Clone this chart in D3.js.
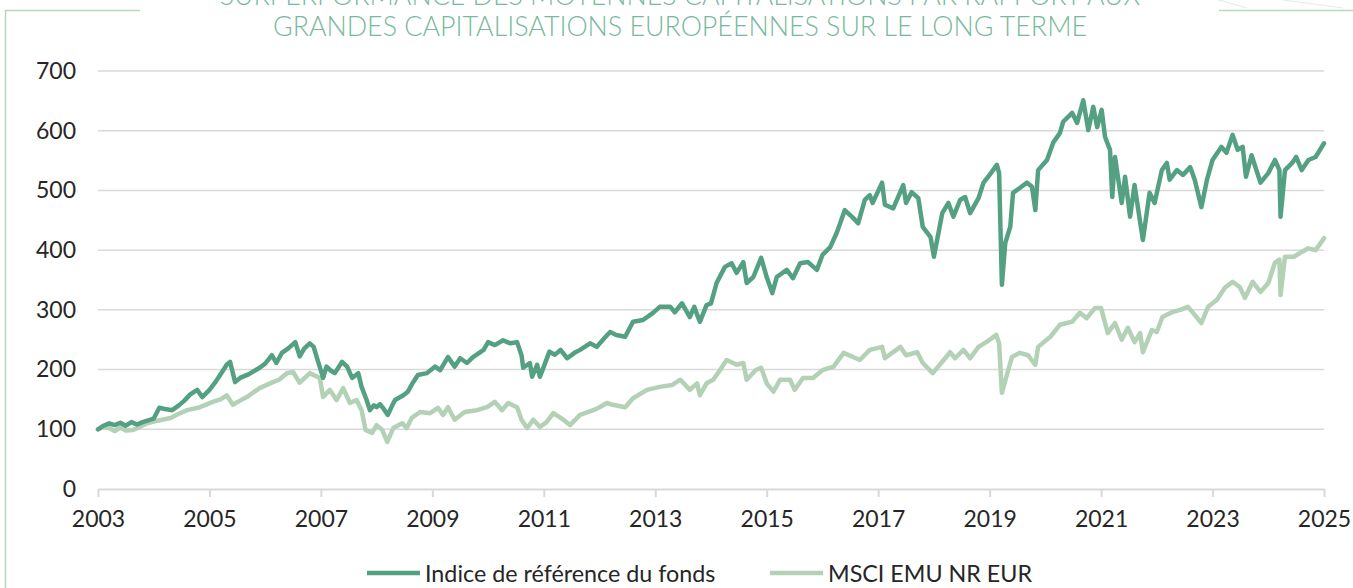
<!DOCTYPE html>
<html><head><meta charset="utf-8">
<script src="https://cdn.jsdelivr.net/npm/d3@7"></script>
<style>
html,body{margin:0;padding:0;background:#fff;}
svg{display:block;font-family:Lato,"Noto Sans",sans-serif;}
</style></head>
<body>
<svg id="chart" width="1353" height="588"></svg>
<script>
// ---- data ----
const titleLines = ["SURPERFORMANCE DES MOYENNES CAPITALISATIONS PAR RAPPORT AUX",
                    "GRANDES CAPITALISATIONS EUROPÉENNES SUR LE LONG TERME"];
const seriesNames = ["Indice de référence du fonds", "MSCI EMU NR EUR"];
const yTicks = [0,100,200,300,400,500,600,700];
const xTicks = [2003,2005,2007,2009,2011,2013,2015,2017,2019,2021,2023,2025];

const indiceDates = [2003.0,2003.1,2003.2,2003.3,2003.4,2003.5,2003.6,2003.7,2003.8,2003.9,2004.0,2004.1,2004.2,2004.33,2004.45,2004.55,2004.65,2004.78,2004.87,2005.0,2005.1,2005.2,2005.31,2005.37,2005.46,2005.55,2005.7,2005.9,2006.0,2006.12,2006.2,2006.3,2006.42,2006.54,2006.62,2006.7,2006.8,2006.87,2006.93,2007.04,2007.1,2007.18,2007.25,2007.38,2007.47,2007.56,2007.67,2007.73,2007.82,2007.88,2007.95,2008.0,2008.06,2008.12,2008.2,2008.27,2008.33,2008.48,2008.56,2008.65,2008.74,2008.9,2009.05,2009.14,2009.28,2009.4,2009.5,2009.62,2009.73,2009.92,2010.0,2010.12,2010.27,2010.4,2010.52,2010.6,2010.63,2010.75,2010.79,2010.88,2010.93,2011.0,2011.1,2011.2,2011.3,2011.42,2011.55,2011.65,2011.83,2011.95,2012.08,2012.19,2012.3,2012.46,2012.6,2012.78,2012.96,2013.08,2013.27,2013.35,2013.48,2013.62,2013.7,2013.8,2013.92,2014.0,2014.1,2014.25,2014.37,2014.46,2014.58,2014.64,2014.76,2014.9,2015.0,2015.1,2015.18,2015.36,2015.47,2015.6,2015.74,2015.9,2016.0,2016.14,2016.26,2016.4,2016.55,2016.64,2016.76,2016.85,2016.9,2017.07,2017.12,2017.27,2017.45,2017.5,2017.6,2017.72,2017.8,2017.94,2018.0,2018.15,2018.26,2018.35,2018.47,2018.56,2018.65,2018.8,2018.89,2019.0,2019.13,2019.17,2019.22,2019.28,2019.37,2019.42,2019.54,2019.67,2019.76,2019.82,2019.87,2020.03,2020.14,2020.26,2020.32,2020.48,2020.57,2020.68,2020.77,2020.86,2020.93,2021.01,2021.07,2021.16,2021.2,2021.25,2021.37,2021.43,2021.52,2021.6,2021.66,2021.75,2021.87,2021.96,2022.09,2022.18,2022.23,2022.36,2022.47,2022.6,2022.68,2022.8,2022.9,2023.0,2023.16,2023.25,2023.36,2023.45,2023.54,2023.6,2023.7,2023.86,2024.0,2024.12,2024.2,2024.22,2024.3,2024.43,2024.5,2024.6,2024.72,2024.85,2025.0];
const indiceValues = [100,106,110,107,111,106,112,108,112,115,118,136,134,132,140,148,158,166,154,166,178,192,208,213,179,186,192,203,210,224,211,228,236,246,222,235,244,238,219,186,205,198,194,213,205,186,194,171,149,132,140,137,142,135,124,138,149,157,163,178,191,194,205,199,221,205,219,211,221,233,246,241,249,244,246,224,203,211,188,208,188,205,230,225,233,219,228,233,244,238,252,263,258,255,280,283,295,305,305,296,311,288,305,280,308,311,345,372,378,362,380,345,355,387,355,328,355,367,353,378,380,367,392,405,430,467,454,445,484,492,479,513,476,470,509,479,497,487,439,422,389,462,479,456,484,489,462,487,513,526,543,529,342,412,439,496,504,513,506,467,534,551,580,596,615,630,613,651,601,640,606,635,590,568,489,556,479,523,456,509,472,417,496,479,534,546,518,534,526,539,518,472,518,551,573,563,593,568,573,523,559,513,529,551,534,456,534,546,556,534,551,556,579];

const msciDates = [2003.0,2003.1,2003.2,2003.3,2003.4,2003.5,2003.63,2003.75,2003.88,2004.0,2004.15,2004.3,2004.45,2004.6,2004.83,2005.06,2005.2,2005.31,2005.42,2005.55,2005.67,2005.9,2006.14,2006.25,2006.39,2006.5,2006.62,2006.8,2006.98,2007.04,2007.16,2007.28,2007.4,2007.52,2007.64,2007.73,2007.8,2007.92,2008.0,2008.1,2008.19,2008.3,2008.46,2008.54,2008.63,2008.78,2008.96,2009.1,2009.19,2009.28,2009.4,2009.58,2009.8,2009.98,2010.12,2010.25,2010.36,2010.52,2010.6,2010.7,2010.81,2010.93,2011.05,2011.17,2011.35,2011.47,2011.65,2011.89,2012.0,2012.13,2012.24,2012.46,2012.6,2012.85,2013.08,2013.3,2013.45,2013.62,2013.75,2013.8,2013.92,2014.04,2014.16,2014.28,2014.46,2014.58,2014.64,2014.8,2014.9,2015.0,2015.12,2015.24,2015.42,2015.5,2015.65,2015.83,2016.0,2016.2,2016.38,2016.55,2016.67,2016.85,2017.07,2017.12,2017.25,2017.4,2017.5,2017.7,2017.8,2017.98,2018.15,2018.29,2018.38,2018.53,2018.65,2018.8,2018.94,2019.12,2019.17,2019.22,2019.3,2019.4,2019.54,2019.69,2019.82,2019.87,2020.09,2020.26,2020.48,2020.62,2020.74,2020.89,2021.0,2021.12,2021.25,2021.37,2021.48,2021.6,2021.7,2021.75,2021.91,2022.0,2022.1,2022.27,2022.42,2022.56,2022.65,2022.8,2022.92,2023.08,2023.22,2023.36,2023.49,2023.58,2023.72,2023.86,2024.0,2024.12,2024.2,2024.22,2024.3,2024.46,2024.6,2024.72,2024.85,2025.0];
const msciValues = [100,104,102,97,103,98,99,104,110,113,116,119,126,132,137,146,150,157,141,148,154,169,179,183,194,196,178,194,186,154,166,149,169,144,149,132,99,94,107,99,79,102,110,102,119,129,127,136,124,137,116,129,132,137,146,132,144,137,116,102,116,104,112,127,116,107,124,132,137,144,141,137,152,166,171,174,183,166,177,157,177,183,199,216,208,211,183,199,203,177,163,183,183,166,186,186,199,205,228,221,216,233,238,219,228,238,224,229,211,194,213,229,219,233,219,238,246,258,244,161,188,221,228,224,208,238,255,275,280,295,286,303,303,261,278,250,270,246,261,229,266,263,288,296,300,305,295,278,305,317,337,347,338,320,347,330,345,379,384,325,389,389,397,403,400,420];

// ---- drawing ----
const svg = d3.select("#chart");
const colors = ["#54a083", "#b3d1b5"];
const x = d3.scaleLinear().domain([2003, 2025]).range([98, 1324]);
const y = d3.scaleLinear().domain([0, 700]).range([489, 71]);

// frame decoration
const frameColor = "#b7d8ba";
svg.append("path").attr("d", "M5.5,588 L5.5,10.5 L140,10.5")
  .attr("fill","none").attr("stroke",frameColor).attr("stroke-width",1.5);
svg.append("line").attr("x1",1219).attr("x2",1353).attr("y1",10.5).attr("y2",10.5)
  .attr("stroke",frameColor).attr("stroke-width",1.5);
svg.append("line").attr("x1",1219).attr("y1",0).attr("x2",1247).attr("y2",8)
  .attr("stroke","#e3ecea").attr("stroke-width",1.2);
svg.append("line").attr("x1",1283).attr("y1",0).attr("x2",1343).attr("y2",8)
  .attr("stroke","#e3ecea").attr("stroke-width",1.2);

// title (first line is partly above the top edge, as in the source image)
svg.append("g").selectAll("text").data(titleLines).join("text")
  .attr("x", 680).attr("y", (d,i) => 5 + i*31)
  .attr("text-anchor","middle")
  .attr("font-size", 26.8).attr("font-weight", 300)
  .attr("fill", "#78b99d")
  .text(d => d);

// gridlines
svg.append("g").selectAll("line").data(yTicks.filter(t => t > 0)).join("line")
  .attr("x1", x(2003)).attr("x2", x(2025))
  .attr("y1", d => y(d)).attr("y2", d => y(d))
  .attr("stroke", "#d9d9d9").attr("stroke-width", 1.5);

// x axis
const xAxis = d3.axisBottom(x).tickValues(xTicks).tickFormat(d3.format("d"))
  .tickSizeInner(8).tickSizeOuter(0).tickPadding(14);
const gx = svg.append("g").attr("transform", `translate(0,${y(0)})`).call(xAxis);
gx.select(".domain").attr("stroke", "#d9d9d9").attr("stroke-width", 2);
gx.selectAll(".tick line").attr("stroke", "#d9d9d9").attr("stroke-width", 2);
gx.selectAll(".tick text").attr("font-size", 23).attr("fill", "#262626")
  .attr("font-family", "Lato, sans-serif");

// y axis labels
const yAxis = d3.axisLeft(y).tickValues(yTicks).tickSize(0).tickPadding(22);
const gy = svg.append("g").attr("transform", `translate(${x(2003)},0)`).call(yAxis);
gy.select(".domain").remove();
gy.selectAll(".tick text").attr("font-size", 23).attr("fill", "#262626")
  .attr("font-family", "Lato, sans-serif");

// lines
const line = d3.line().x(d => x(d[0])).y(d => y(d[1]));
const msci = msciDates.map((d,i) => [d, msciValues[i]]);
const indice = indiceDates.map((d,i) => [d, indiceValues[i]]);
[[msci, colors[1]], [indice, colors[0]]].forEach(([data, c]) => {
  svg.append("path").datum(data).attr("d", line)
    .attr("fill","none").attr("stroke", c).attr("stroke-width", 4.5)
    .attr("stroke-linejoin","round").attr("stroke-linecap","round");
});

// legend
const legendX = [367, 770];
const lg = svg.append("g").selectAll("g").data(seriesNames).join("g")
  .attr("transform", (d,i) => `translate(${legendX[i]},573)`);
lg.append("line").attr("x1",0).attr("x2",53).attr("y1",0).attr("y2",0)
  .attr("stroke",(d,i) => colors[i]).attr("stroke-width",4.5);
lg.append("text").attr("x",58).attr("y",8.5)
  .attr("font-size",23.3).attr("fill","#262626").text(d => d);
</script>
</body></html>
